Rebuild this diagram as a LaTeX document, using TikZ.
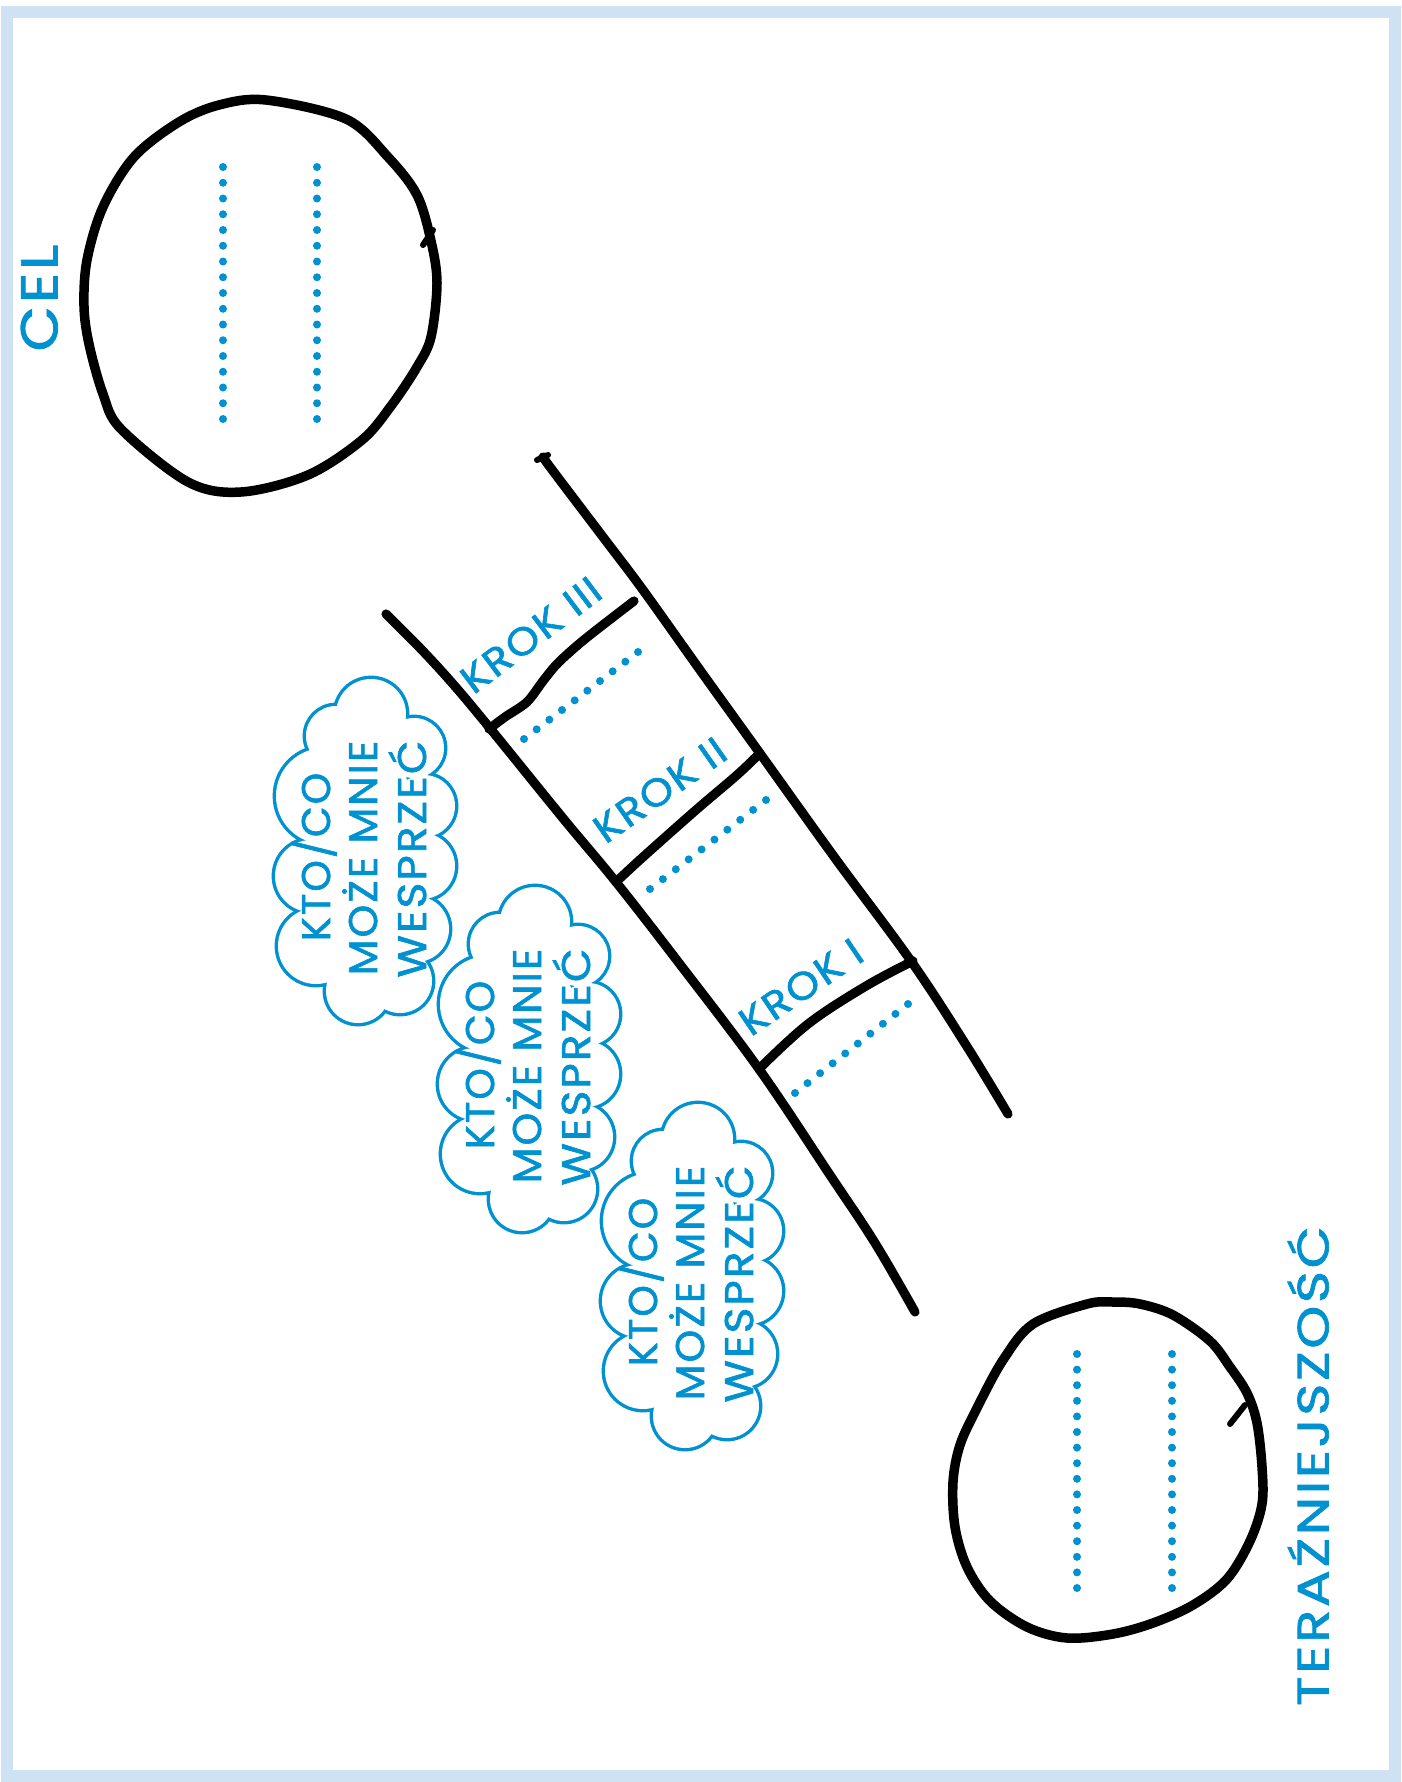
\documentclass[tikz,border=0pt]{standalone}
\usepackage{fontspec}
\setmainfont{Poppins}
\newfontfamily\hand{Poppins}[LetterSpace=5, FakeBold=1.6]
\usetikzlibrary{calc}
\definecolor{inkblue}{RGB}{0,146,208}
\definecolor{framec}{RGB}{207,226,243}
\newcommand\cloudlobes{5/-137/35, 48/-103/30, 58/-45/31, 56/15/33, 50/78/33, 34/130/32, -8/140/32, -50/95/38, -55/25/36, -42/-55/48, -30/-115/30}
\newcommand\helpcloud[2]{%
  \begin{scope}[shift={#1}]
    \foreach \cx/\cy/\rad in \cloudlobes {\draw[inkblue, line width=3.4pt] (\cx,\cy) circle[radius=\rad*0.5pt];}
    \foreach \cx/\cy/\rad in \cloudlobes {\fill[white] (\cx,\cy) circle[radius=\rad*0.5pt];}
    \fill[white] (0,0) ellipse[x radius=25pt, y radius=62pt];
    \node[cloudtxt] (#2a) at (-50,6) {KTO/CO};
    \node[cloudtxt] (#2b) at (-3,7) {\scalebox{1.04}[1]{MOŻE MNIE}};
    \node[cloudtxt] (#2c) at (46,8) {\scalebox{1.09}[1]{WESPRZEĆ}};
  \end{scope}}
\begin{document}
\begin{tikzpicture}[x=0.5pt,y=-0.5pt,
  ring/.style={line width=4.75pt, line cap=round, line join=round},
  rail/.style={line width=4.6pt, line cap=round, line join=round},
  bluetxt/.style={text=inkblue, inner sep=0pt, anchor=center, text depth=0pt},
  cloudtxt/.style={bluetxt, rotate=90, text height=14pt, font=\hand\fontsize{20pt}{22pt}\selectfont},
  kroktxt/.style={bluetxt, text height=13.5pt, font=\hand\fontsize{19.5pt}{22pt}\selectfont},
  dot/.style={fill=inkblue}]
\useasboundingbox (0,0) rectangle (1402,1782);
\fill[white] (0,0) rectangle (1402,1782);
\draw[framec, line width=6pt] (7,12) rectangle (1395,1776);

% CEL circle
\draw[ring] plot[smooth cycle, tension=0.55] coordinates {(266,100) (346,119) (388,157) (417,195) (431,241) (437,283) (431,337) (417,367) (391,406) (362,440) (308,475) (241,492) (188,482) (121,429) (103,394) (89,344) (84,306) (87,260) (103,207) (134,157) (179,122) (219,105)};
\draw[line width=3pt, line cap=round] (433,230) -- (423,245);
\foreach \i in {0,...,16} {
  \fill[dot] (223,167+15.75*\i) circle (2pt);
  \fill[dot] (317,167+15.75*\i) circle (2pt);
}
\node[bluetxt, rotate=90, text height=16.5pt, font=\hand\fontsize{26pt}{28pt}\selectfont] (cel) at (41,298) {\scalebox{1.13}[1]{CEL}};

% present circle
\draw[ring] plot[smooth cycle, tension=0.55] coordinates {(1113,1302) (1140,1304) (1173,1315) (1210,1341) (1230,1367) (1247,1393) (1257,1423) (1262,1467) (1262,1504) (1250,1541) (1227,1579) (1193,1605) (1153,1623) (1113,1634) (1067,1638) (1027,1627) (990,1601) (967,1567) (955,1527) (953,1482) (960,1445) (977,1408) (1003,1360) (1033,1324) (1087,1304)};
\draw[line width=3pt, line cap=round] (1245,1405) -- (1230,1424);
\foreach \i in {0,...,15} {
  \fill[dot] (1077,1354+15.6*\i) circle (2pt);
  \fill[dot] (1172,1354+15.6*\i) circle (2pt);
}
\node[bluetxt, rotate=90, text height=15.5pt, font=\hand\fontsize{22pt}{24pt}\selectfont] (now) at (1313,1466) {\scalebox{1.24}[1]{TERAŹNIEJSZOŚĆ}};

% ladder rails
\draw[rail] plot[smooth, tension=0.6] coordinates {(386,614) (420,648) (453,684) (489,727) (562,817) (616,882) (679,963) (759,1069) (830,1175) (875,1243) (915,1312)};
\draw[rail] plot[smooth, tension=0.6] coordinates {(543,457) (553,471) (603,537) (643,590) (700,670) (759,752) (835,858) (911,961) (966,1045) (1008,1114)};
\draw[line width=3pt, line cap=round] (537,460) -- (548,455);

% rungs
\draw[rail] plot[smooth, tension=0.5] coordinates {(489,729) (505,717) (527,702) (543,681) (558,663) (585,639) (634,601)};
\draw[rail] plot[smooth, tension=0.6] coordinates {(616,882) (643,857) (696,810) (737,775) (759,754)};
\draw[rail] plot[smooth, tension=0.6] coordinates {(759,1069) (808,1024) (866,986) (913,961)};

% rung dots
\foreach \i in {0,...,9} {
  \fill[dot] ($(524,739)!\i/9!(638,652)$) circle (2pt);
  \fill[dot] ($(650,889)!\i/9!(766,800)$) circle (2pt);
  \fill[dot] ($(795,1093)!\i/9!(908,1004)$) circle (2pt);
}

% step labels
\node[kroktxt, rotate=37] (k3) at (531,635) {\scalebox{1.08}[1]{KROK III}};
\node[kroktxt, rotate=35] (k2) at (660,790) {\scalebox{1.08}[1]{KROK II}};
\node[kroktxt, rotate=34] (k1) at (801,987) {\scalebox{1.08}[1]{KROK I}};

% clouds
\helpcloud{(366,851)}{ca}
\helpcloud{(530,1059)}{cb}
\helpcloud{(693,1276)}{cc}
\end{tikzpicture}
\end{document}
